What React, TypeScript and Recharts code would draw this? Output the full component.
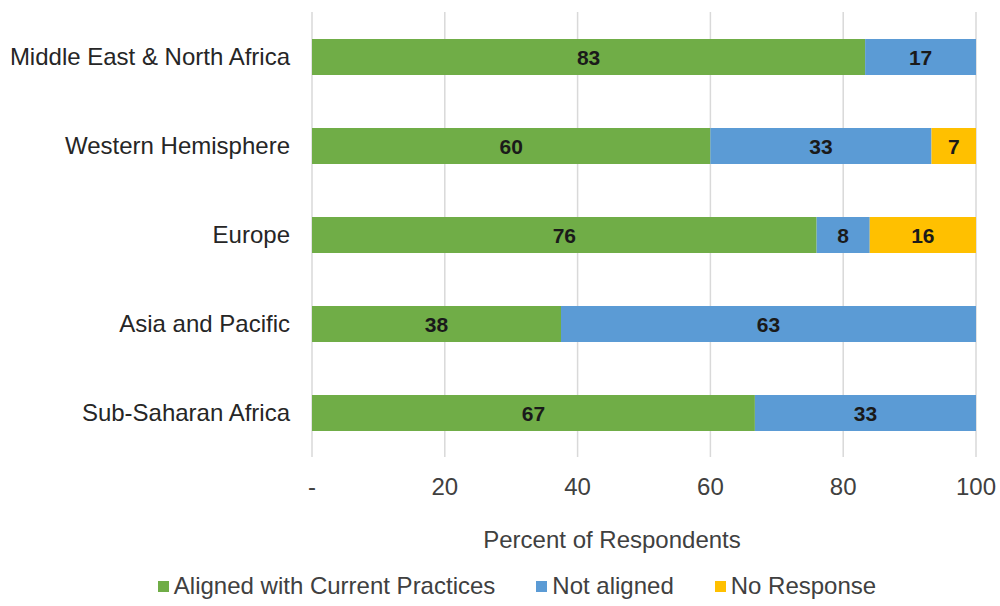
import { BarChart, Bar, XAxis, YAxis, CartesianGrid, Legend, LabelList } from "recharts"

const regions = [
    "Middle East & North Africa",
    "Western Hemisphere",
    "Europe",
    "Asia and Pacific",
    "Sub-Saharan Africa",
]
const aligned = [83.3, 60, 76, 37.5, 66.7]
const notAligned = [16.7, 33.3, 8, 62.5, 33.3]
const noResponse = [0, 6.7, 16, 0, 0]
const xTicks = [0, 20, 40, 60, 80, 100]

const FONT = "'Liberation Sans', Arial, sans-serif"

const series = [
    { key: "aligned", name: "Aligned with Current Practices", color: "#70AD47" },
    { key: "notAligned", name: "Not aligned", color: "#5B9BD5" },
    { key: "noResponse", name: "No Response", color: "#FFC000" },
]

const data = regions.map((region, i) => ({
    region,
    aligned: aligned[i],
    notAligned: notAligned[i],
    noResponse: noResponse[i],
}))

function BarLabel(props: any) {
    const { x, y, width, height, value } = props
    if (!value) return null
    return (
        <text
            x={x + width / 2}
            y={y + height / 2}
            textAnchor="middle"
            dominantBaseline="central"
            fontFamily={FONT}
            fontSize={21}
            fontWeight="bold"
            fill="#1a1a1a"
        >
            {Math.round(value)}
        </text>
    )
}

function LegendContent() {
    return (
        <div
            style={{
                display: "flex",
                justifyContent: "center",
                alignItems: "center",
                height: 40,
                transform: "translateX(29px)",
                fontFamily: FONT,
                fontSize: 24,
                color: "#404040",
            }}
        >
            {series.map((s, i) => (
                <div key={s.key} style={{ display: "flex", alignItems: "center", marginLeft: i === 0 ? 0 : 41 }}>
                    <span style={{ width: 11, height: 11, background: s.color, marginRight: 5, display: "inline-block" }} />
                    <span>{s.name}</span>
                </div>
            ))}
        </div>
    )
}

export default function App() {
    return (
        <div style={{ position: "absolute", left: 0, top: 0, width: 1000, height: 606, background: "#fff" }}>
            <BarChart
                width={1000}
                height={606}
                data={data}
                layout="vertical"
                barSize={36}
                margin={{ top: 12, right: 24, left: 0, bottom: 0 }}
            >
                <CartesianGrid horizontal={false} stroke="#d9d9d9" strokeWidth={1.5} />
                <XAxis
                    type="number"
                    domain={[0, 100]}
                    ticks={xTicks}
                    tickFormatter={(v: number) => (v === 0 ? "-" : String(v))}
                    axisLine={false}
                    tickLine={false}
                    tickSize={0}
                    tickMargin={21}
                    height={109}
                    tick={{ fontFamily: FONT, fontSize: 24, fill: "#404040" }}
                    label={{
                        value: "Percent of Respondents",
                        position: "insideBottom",
                        offset: 18,
                        dx: -32,
                        style: { fontFamily: FONT, fontSize: 24, fill: "#404040" },
                    }}
                />
                <YAxis
                    type="category"
                    dataKey="region"
                    width={312}
                    axisLine={false}
                    tickLine={false}
                    tickSize={0}
                    tickMargin={22}
                    tick={{ fontFamily: FONT, fontSize: 24, fill: "#262626" }}
                />
                <Legend verticalAlign="bottom" content={<LegendContent />} wrapperStyle={{ height: 40 }} />
                {series.map((s) => (
                    <Bar
                        key={s.key}
                        dataKey={s.key}
                        name={s.name}
                        stackId="a"
                        fill={s.color}
                        isAnimationActive={false}
                    >
                        <LabelList dataKey={s.key} content={<BarLabel />} />
                    </Bar>
                ))}
            </BarChart>
        </div>
    )
}
